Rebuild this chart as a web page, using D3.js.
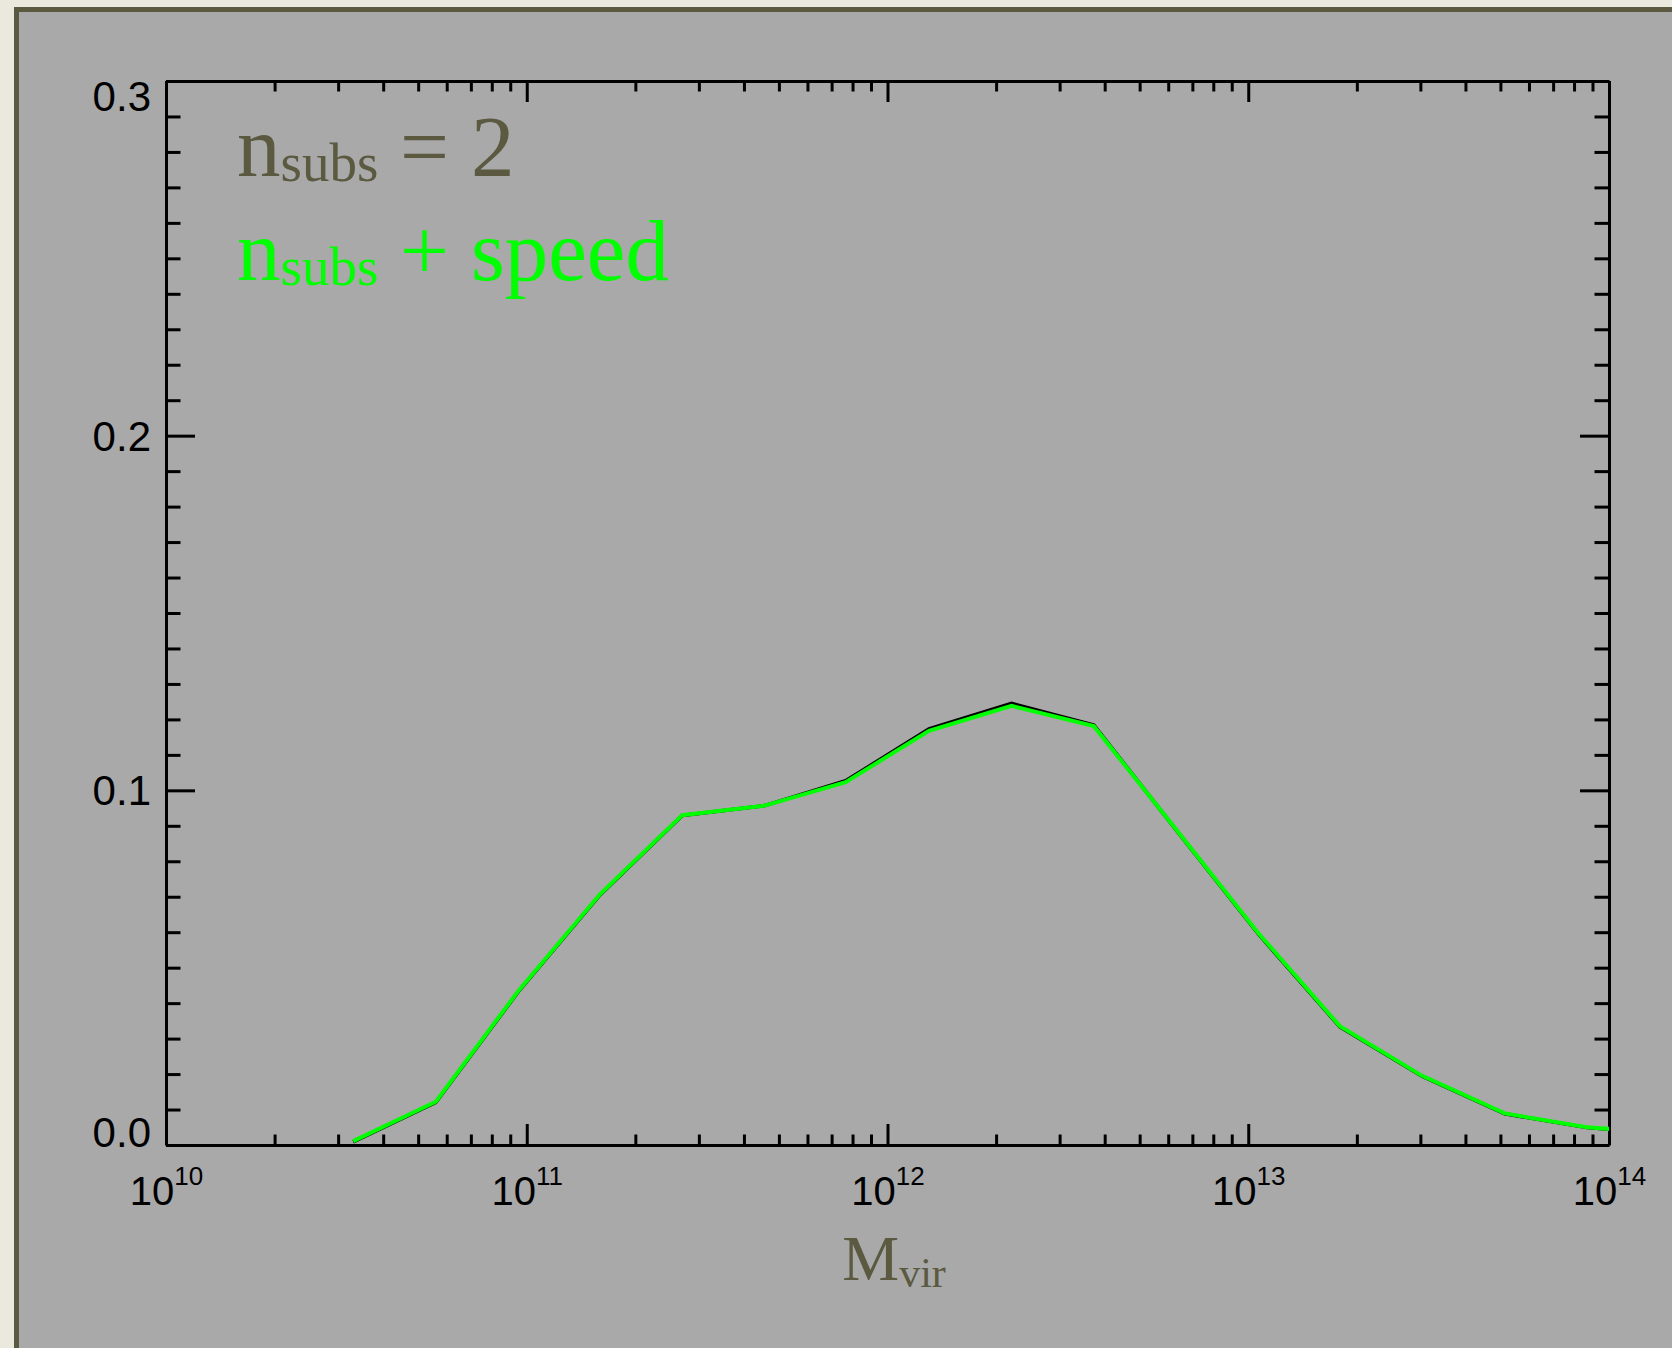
<!DOCTYPE html>
<html>
<head>
<meta charset="utf-8">
<script src="https://cdn.jsdelivr.net/npm/d3@7"></script>
<style>
  body { margin: 0; background: #ebe9de; }
  svg { display: block; }
</style>
</head>
<body>
<script>
// data
var logMass = [10.519, 10.748, 10.975, 11.203, 11.431, 11.660, 11.884, 12.115, 12.344,
               12.572, 12.799, 13.028, 13.254, 13.482, 13.711, 13.939, 14.167];
var fracSubs = [0.0009, 0.0120, 0.0430, 0.0705, 0.0929, 0.0957, 0.1027, 0.1173, 0.1245,
                0.1184, 0.0890, 0.0595, 0.0333, 0.0194, 0.0088, 0.0049, 0.0032];
var fracSpeed = [0.0011, 0.0122, 0.0432, 0.0707, 0.0930, 0.0957, 0.1023, 0.1168, 0.1238,
                 0.1181, 0.0891, 0.0597, 0.0335, 0.0195, 0.0089, 0.0050, 0.0033];
var xMajor = [1e10, 1e11, 1e12, 1e13, 1e14];
var xExp = ["10", "11", "12", "13", "14"];
var yMajor = [0.0, 0.1, 0.2, 0.3];
var yLabels = ["0.0", "0.1", "0.2", "0.3"];

var W = 1672, H = 1348;
var plotLeft = 166, plotRight = 1609, plotTop = 81, plotBottom = 1145;
var olive = "#5b5940", green = "#00ff00";

var svg = d3.select("body").append("svg")
    .attr("width", W)
    .attr("height", H);

// panel
svg.append("rect")
    .attr("x", 16.5).attr("y", 9.5)
    .attr("width", W + 50).attr("height", H + 50)
    .attr("fill", "#a9a9a9")
    .attr("stroke", olive)
    .attr("stroke-width", 5);

var x = d3.scaleLog().domain([1e10, 1e14]).range([plotLeft, plotRight]);
var y = d3.scaleLinear().domain([0, 0.3]).range([plotBottom, plotTop]);

var xMinor = [];
for (var e = 10; e < 14; e++) {
    for (var m = 2; m <= 9; m++) xMinor.push(m * Math.pow(10, e));
}
var yMinor = d3.range(0, 31).map(function(i) { return i / 100; })
    .filter(function(v, i) { return i % 10 != 0; });

function styleAxis(g) {
    g.selectAll("line").attr("stroke", "#000").attr("stroke-width", 3);
    g.selectAll("path").attr("stroke", "#000").attr("stroke-width", 3);
}

// minor ticks
svg.append("g").attr("transform", "translate(0," + plotBottom + ")")
    .call(d3.axisBottom(x).tickValues(xMinor).tickSize(-10.5).tickFormat(""))
    .call(styleAxis).select(".domain").remove();
svg.append("g").attr("transform", "translate(0," + plotTop + ")")
    .call(d3.axisTop(x).tickValues(xMinor).tickSize(-10.5).tickFormat(""))
    .call(styleAxis).select(".domain").remove();
svg.append("g").attr("transform", "translate(" + plotLeft + ",0)")
    .call(d3.axisLeft(y).tickValues(yMinor).tickSize(-14.5).tickFormat(""))
    .call(styleAxis).select(".domain").remove();
svg.append("g").attr("transform", "translate(" + plotRight + ",0)")
    .call(d3.axisRight(y).tickValues(yMinor).tickSize(-14.5).tickFormat(""))
    .call(styleAxis).select(".domain").remove();

// major ticks
var xAxis = svg.append("g").attr("transform", "translate(0," + plotBottom + ")")
    .call(d3.axisBottom(x).tickValues(xMajor).tickSize(-21).tickSizeOuter(0))
    .call(styleAxis);
svg.append("g").attr("transform", "translate(0," + plotTop + ")")
    .call(d3.axisTop(x).tickValues(xMajor).tickSize(-21).tickSizeOuter(0).tickFormat(""))
    .call(styleAxis);
var yAxis = svg.append("g").attr("transform", "translate(" + plotLeft + ",0)")
    .call(d3.axisLeft(y).tickValues(yMajor).tickSize(-29).tickSizeOuter(0))
    .call(styleAxis);
svg.append("g").attr("transform", "translate(" + plotRight + ",0)")
    .call(d3.axisRight(y).tickValues(yMajor).tickSize(-29).tickSizeOuter(0).tickFormat(""))
    .call(styleAxis);

// x tick labels: 10^n
xAxis.selectAll(".tick text").each(function(d, i) {
    var t = d3.select(this).text("")
        .attr("y", 60).attr("dy", null)
        .attr("fill", "#000")
        .attr("font-family", "Liberation Sans, Arial, sans-serif")
        .attr("font-size", 40)
        .attr("text-anchor", "middle");
    t.append("tspan").text("10");
    t.append("tspan").text(xExp[i]).attr("font-size", 26).attr("dy", -20);
});

// y tick labels, end labels pulled inside the range
var yShift = [1, 14.5, 14.5, 29];
yAxis.selectAll(".tick text").each(function(d, i) {
    d3.select(this).text(yLabels[i])
        .attr("x", -15).attr("dy", null).attr("y", yShift[i])
        .attr("fill", "#000")
        .attr("font-family", "Liberation Sans, Arial, sans-serif")
        .attr("font-size", 42)
        .attr("text-anchor", "end");
});

// lines
svg.append("clipPath").attr("id", "plotClip")
    .append("rect").attr("x", plotLeft).attr("y", plotTop)
    .attr("width", plotRight - plotLeft).attr("height", plotBottom - plotTop);

var line = d3.line()
    .x(function(d) { return x(Math.pow(10, d[0])); })
    .y(function(d) { return y(d[1]); });

svg.append("path")
    .datum(d3.zip(logMass, fracSubs))
    .attr("d", line)
    .attr("clip-path", "url(#plotClip)")
    .attr("fill", "none")
    .attr("stroke", "#000")
    .attr("stroke-width", 3.5);

svg.append("path")
    .datum(d3.zip(logMass, fracSpeed))
    .attr("d", line)
    .attr("clip-path", "url(#plotClip)")
    .attr("fill", "none")
    .attr("stroke", green)
    .attr("stroke-width", 4);

// legend
var serif = "Liberation Serif, Times New Roman, serif";
function legendLine(yPos, color, rest) {
    var t = svg.append("text")
        .attr("x", 237).attr("y", yPos)
        .attr("fill", color)
        .attr("font-family", serif)
        .attr("font-size", 87);
    t.append("tspan").text("n");
    t.append("tspan").text("subs").attr("font-size", 55).attr("dy", 5);
    t.append("tspan").text(rest).attr("dy", -5);
}
legendLine(176, olive, " = 2");
legendLine(280, green, " + speed");

// x title
var xt = svg.append("text")
    .attr("x", 894).attr("y", 1280)
    .attr("text-anchor", "middle")
    .attr("fill", olive)
    .attr("font-family", serif)
    .attr("font-size", 64);
xt.append("tspan").text("M");
xt.append("tspan").text("vir").attr("font-size", 42).attr("dy", 7);
</script>
</body>
</html>
